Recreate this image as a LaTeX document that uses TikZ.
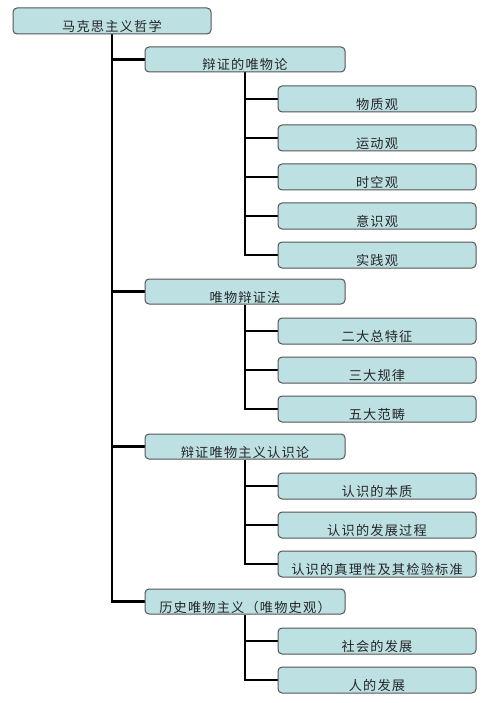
\documentclass[tikz,border=0pt]{standalone}
\usepackage{fontspec}
\setmainfont{Noto Sans CJK SC}[LetterSpace=9]
\usetikzlibrary{backgrounds}
\definecolor{boxfill}{HTML}{BDE0E3}
\definecolor{boxdraw}{HTML}{555555}
\begin{document}
\begin{tikzpicture}[x=1pt,y=-1pt,
 box/.style={draw=boxdraw, line width=1pt, fill=boxfill, rounded corners=4pt, inner sep=0pt,
   text height=21pt, text depth=0pt, font=\fontsize{13.2}{15}\selectfont, text=black!85},
 rootbox/.style={box, minimum width=198pt, minimum height=26pt},
 lvone/.style={box, minimum width=200pt, minimum height=25pt},
 lvtwo/.style={box, minimum width=198pt, minimum height=26pt},
 link/.style={line width=2.4pt, black}]
\useasboundingbox (0,0) rectangle (500,703);

\node[rootbox] (r) at (112,21) {马克思主义哲学};

\node[lvone] (l1) at (245,59.5) {辩证的唯物论};
\node[lvone] (l2) at (245,291.5) {唯物辩证法};
\node[lvone] (l3) at (245,446.5) {辩证唯物主义认识论};
\node[lvone] (l4) at (245,601.5) {历史唯物主义（唯物史观）};

\node[lvtwo] (a1) at (377,99) {物质观};
\node[lvtwo] (a2) at (377,138) {运动观};
\node[lvtwo] (a3) at (377,177) {时空观};
\node[lvtwo] (a4) at (377,216) {意识观};
\node[lvtwo] (a5) at (377,255) {实践观};

\node[lvtwo] (b1) at (377,331) {二大总特征};
\node[lvtwo] (b2) at (377,370) {三大规律};
\node[lvtwo] (b3) at (377,409) {五大范畴};

\node[lvtwo] (c1) at (377,486) {认识的本质};
\node[lvtwo] (c2) at (377,525) {认识的发展过程};
\node[lvtwo] (c3) at (377,564) {认识的真理性及其检验标准};

\node[lvtwo] (d1) at (377,641) {社会的发展};
\node[lvtwo] (d2) at (377,680) {人的发展};

\begin{scope}[on background layer]
\draw[link] (r.south) |- (l4.west);
\foreach \n in {l1,l2,l3} \draw[link] (r.south |- \n.west) -- (\n.west);

\draw[link] (l1.south) |- (a5.west);
\foreach \n in {a1,a2,a3,a4} \draw[link] (l1.south |- \n.west) -- (\n.west);

\draw[link] (l2.south) |- (b3.west);
\foreach \n in {b1,b2} \draw[link] (l2.south |- \n.west) -- (\n.west);

\draw[link] (l3.south) |- (c3.west);
\foreach \n in {c1,c2} \draw[link] (l3.south |- \n.west) -- (\n.west);

\draw[link] (l4.south) |- (d2.west);
\draw[link] (l4.south |- d1.west) -- (d1.west);
\end{scope}
\end{tikzpicture}
\end{document}
